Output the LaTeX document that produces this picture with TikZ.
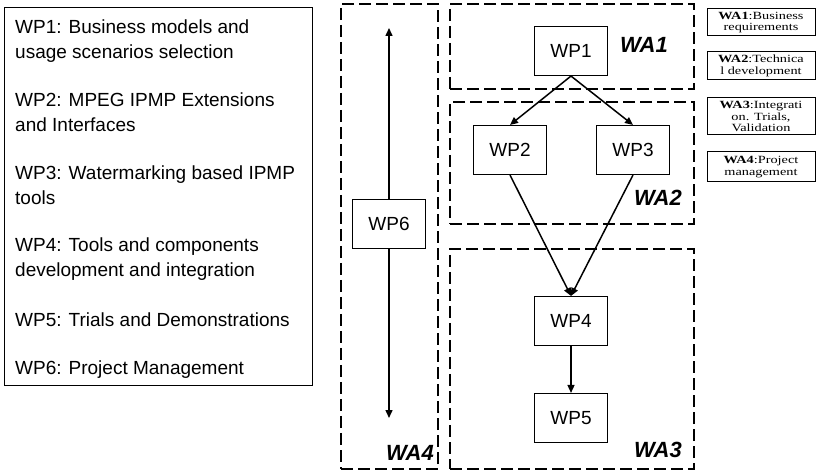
\documentclass[tikz,border=0pt]{standalone}
\usepackage{fontspec}
\setmainfont{Liberation Sans}
\newfontfamily\notefont{Liberation Serif}[FakeStretch=1.3]
\usetikzlibrary{arrows.meta}
\tikzset{
  x=1pt, y=-1pt,
  listline/.style={anchor=base west, inner sep=0, font=\fontsize{19}{23}\selectfont},
  area/.style={draw, line width=2pt, dash pattern=on 12pt off 5pt, anchor=north west, inner sep=0},
  wpbox/.style={draw, line width=1.1pt, minimum width=73pt, minimum height=49pt, inner sep=0,
                font=\fontsize{19}{23}\selectfont},
  arealabel/.style={inner sep=0, font=\fontsize{22}{26}\selectfont\bfseries\itshape},
  flow/.style={line width=1.5pt, -{Triangle[length=8pt,width=7pt]}},
  notebox/.style={draw, line width=1pt, minimum width=108pt, inner sep=0, align=center,
                  font=\notefont\fontsize{11}{11.5}\selectfont}
}
\begin{document}
\begin{tikzpicture}
\useasboundingbox (0,0) rectangle (817,470);

% work package list
\node[draw, line width=1.4pt, minimum width=308pt, minimum height=378pt, anchor=north west, inner sep=0] (legend) at (4,7) {};
\node[listline] (l1a) at (15,34)  {WP1: Business models and};
\node[listline] (l1b) at (15,59)  {usage scenarios selection};
\node[listline] (l2a) at (15,107) {WP2: MPEG IPMP Extensions};
\node[listline] (l2b) at (15,132) {and Interfaces};
\node[listline] (l3a) at (15,180) {WP3: Watermarking based IPMP};
\node[listline] (l3b) at (15,205) {tools};
\node[listline] (l4a) at (15,252) {WP4: Tools and components};
\node[listline] (l4b) at (15,277) {development and integration};
\node[listline] (l5)  at (15,327) {WP5: Trials and Demonstrations};
\node[listline] (l6)  at (15,375) {WP6: Project Management};

% work areas
\node[area, minimum width=97pt,  minimum height=465pt] (wa4) at (340,3)   {};
\node[area, minimum width=244pt, minimum height=85pt]  (wa1) at (449,3)   {};
\node[area, minimum width=244pt, minimum height=122pt] (wa2) at (449,101) {};
\node[area, minimum width=244pt, minimum height=220pt] (wa3) at (449,248) {};

\node[arealabel] (wa1l) at (644,45)  {WA1};
\node[arealabel] (wa2l) at (658,198) {WA2};
\node[arealabel] (wa3l) at (658,450) {WA3};
\node[arealabel] (wa4l) at (410,453) {WA4};

% work packages
\node[wpbox] (wp1) at (571,51)  {WP1};
\node[wpbox] (wp2) at (510,150) {WP2};
\node[wpbox] (wp3) at (633,150) {WP3};
\node[wpbox] (wp4) at (571,321) {WP4};
\node[wpbox] (wp5) at (571,418) {WP5};
\node[wpbox] (wp6) at (389,224) {WP6};

\coordinate (top6) at (389,28);
\coordinate (bot6) at (389,418);

\draw[flow] (wp1.south) -- (wp2.north);
\draw[flow] (wp1.south) -- (wp3.north);
\draw[flow] (wp2.south) -- (wp4.north);
\draw[flow] (wp3.south) -- (wp4.north);
\draw[flow] (wp4.south) -- (wp5.north);
\draw[flow] (wp6.north) -- (top6);
\draw[flow] (wp6.south) -- (bot6);

% area notes
\node[notebox, minimum height=27pt] (n1) at (761,22.5) {\textbf{WA1}:Business\\requirements};
\node[notebox, minimum height=28pt] (n2) at (761,66)   {\textbf{WA2}:Technica\\l development};
\node[notebox, minimum height=37pt] (n3) at (761,116.5){\textbf{WA3}:Integrati\\on. Trials,\\Validation};
\node[notebox, minimum height=30pt] (n4) at (761,167)  {\textbf{WA4}:Project\\management};
\end{tikzpicture}
\end{document}
